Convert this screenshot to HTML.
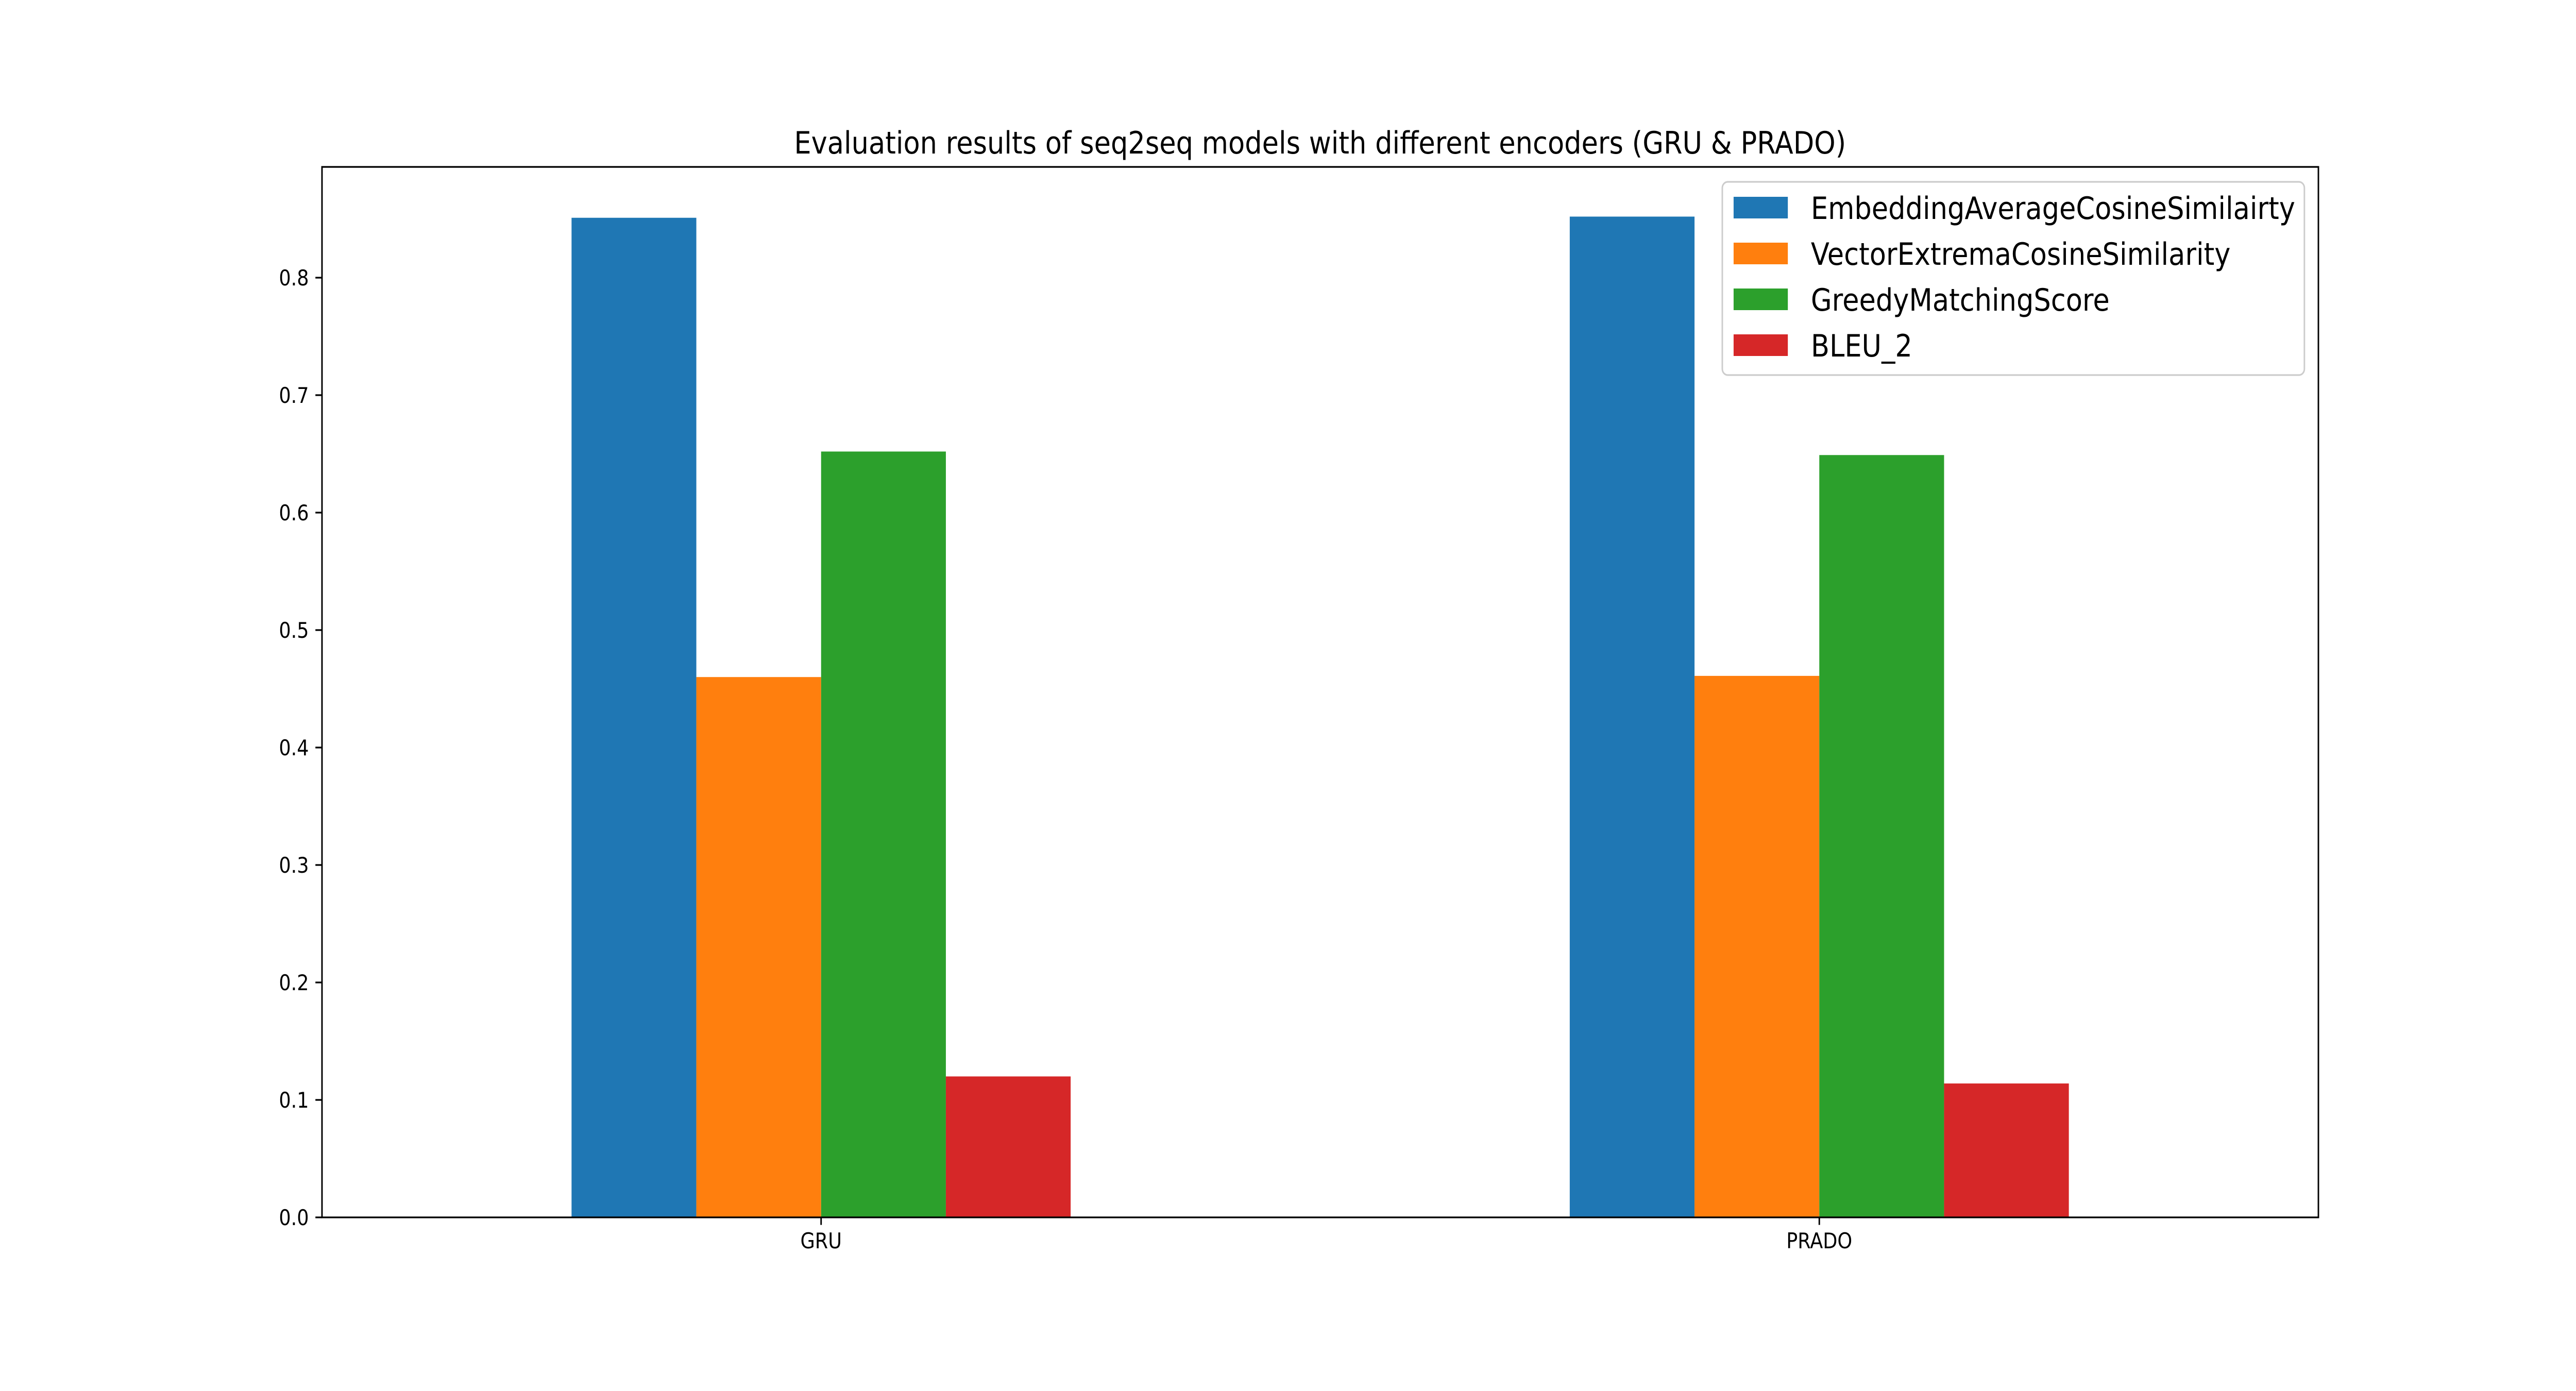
<!DOCTYPE html>
<html><head><meta charset="utf-8"><style>html,body{margin:0;padding:0;background:#fff;overflow:hidden;width:100vw;height:100vh}svg{display:block;width:100vw;height:100vh}text{font-family:"DejaVu Sans","Liberation Sans",sans-serif;fill:#000}</style></head>
<body>
<svg id="chart" xmlns="http://www.w3.org/2000/svg" viewBox="0 0 5700 2700" preserveAspectRatio="none">
<rect width="5700" height="2700" fill="#fff"/>
<text x="2921" y="298" font-size="60" text-anchor="middle">Evaluation results of seq2seq models with different encoders (GRU &amp; PRADO)</text>
<g id="bars"></g><g id="ticks"></g>
<rect x="712.5" y="324" width="4417.5" height="2039" fill="none" stroke="#000" stroke-width="3.3"/>
<g id="legend"></g>
</svg>
<script>
const categories = ["GRU", "PRADO"];
const seriesNames = ["EmbeddingAverageCosineSimilairty", "VectorExtremaCosineSimilarity", "GreedyMatchingScore", "BLEU_2"];
const embeddingAvg = [0.851, 0.852];
const vectorExtrema = [0.460, 0.461];
const greedyMatching = [0.652, 0.649];
const bleu2 = [0.120, 0.114];
const yTicks = [0.0, 0.1, 0.2, 0.3, 0.4, 0.5, 0.6, 0.7, 0.8];
const colors = ["#1f77b4", "#ff7f0e", "#2ca02c", "#d62728"];
const series = [embeddingAvg, vectorExtrema, greedyMatching, bleu2];

const NS = "http://www.w3.org/2000/svg";
const L = 712.5, R = 5130, T = 324, B = 2363;
const xMin = -0.5, xMax = 1.5, yMin = 0, yMax = (B - T) / 2280;
const xs = v => L + (v - xMin) / (xMax - xMin) * (R - L);
const ys = v => B - (v - yMin) / (yMax - yMin) * (B - T);
function mk(tag, attrs, parent) { const e = document.createElementNS(NS, tag); for (const k in attrs) e.setAttribute(k, attrs[k]); parent.appendChild(e); return e; }

const gb = document.getElementById("bars");
const bw = 0.125;
series.forEach((vals, s) => {
  vals.forEach((v, i) => {
    const x0 = i - 0.25 + s * bw;
    const r = mk("rect", { x: xs(x0), y: ys(v), width: xs(x0 + bw) - xs(x0), height: ys(0) - ys(v), fill: colors[s] }, gb);
    
    
  });
});

const gt = document.getElementById("ticks");
yTicks.forEach(t => {
  const y = ys(t);
  const l = mk("line", { x1: L - 14.6, x2: L, y1: y, y2: y, stroke: "#000", "stroke-width": 3.3 }, gt);
  
  
  const tx = mk("text", { x: L - 29, y: y + 15, "font-size": 41.7, "text-anchor": "end" }, gt);
  tx.textContent = t.toFixed(1);
  
  
});
categories.forEach((c, i) => {
  const x = xs(i);
  const l = mk("line", { x1: x, x2: x, y1: B, y2: B + 14.6, stroke: "#000", "stroke-width": 3.3 }, gt);
  
  
  const tx = mk("text", { x: x, y: 2423, "font-size": 41.7, "text-anchor": "middle" }, gt);
  tx.textContent = c;
  
  
});

const gl = document.getElementById("legend");
const box = mk("rect", { x: 3811, y: 353, width: 1288, height: 375, rx: 12, fill: "#fff", "fill-opacity": 0.8, stroke: "#ccc", "stroke-width": 3.3 }, gl);


seriesNames.forEach((n, s) => {
  const cy = 403 + s * 89;
  const p = mk("rect", { x: 3836, y: cy - 21, width: 120, height: 42, fill: colors[s] }, gl);
  
  
  const tx = mk("text", { x: 4007, y: cy + 22, "font-size": 60 }, gl);
  tx.textContent = n;
  
  
});
</script>
</body></html>
